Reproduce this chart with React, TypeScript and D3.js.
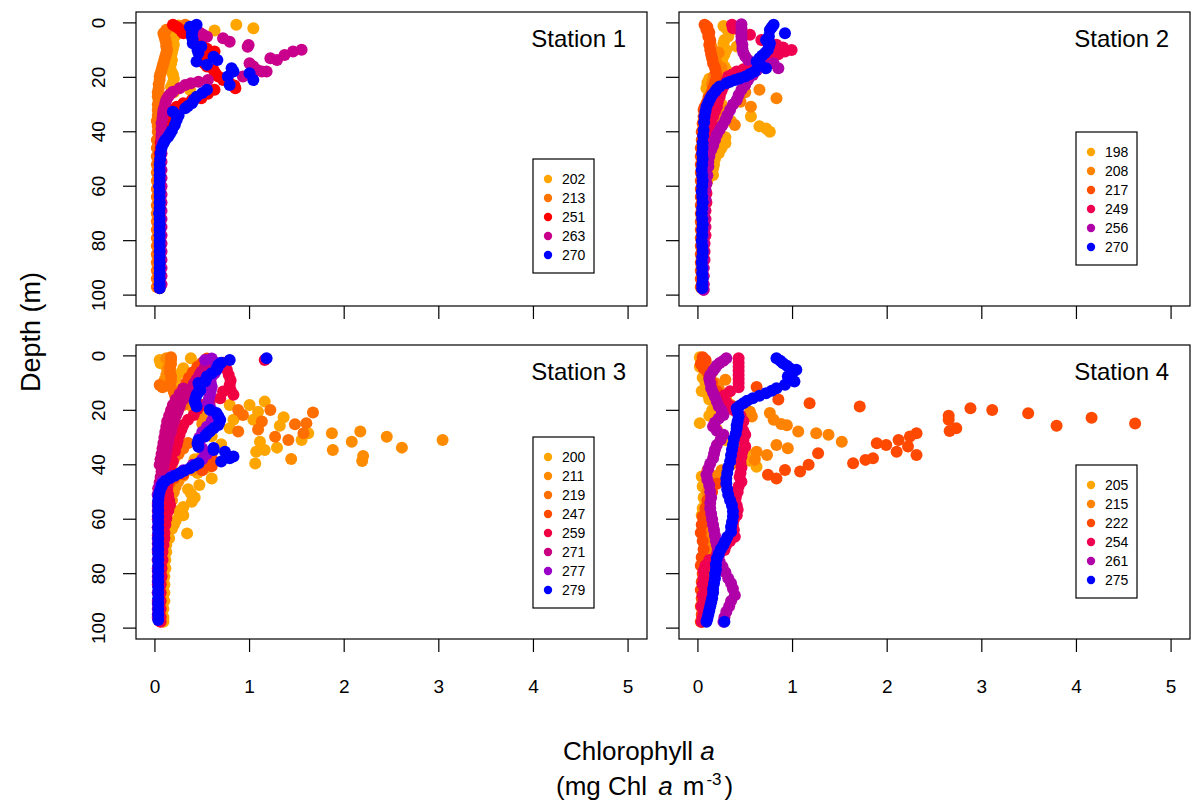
import React from "react";
import * as d3 from "d3";

type Pt = [number, number]; // [depth (m), chlorophyll a]

// ---------------- Station 1 ----------------
const station1Days = ["202", "213", "251", "263", "270"];
const station1Colors = ["#FFA500", "#FF7400", "#FF0000", "#C8008C", "#0000FF"];
const s1_202: Pt[] = [[0.7,0.86],[2,1.04],[2.8,0.63],[1,0.25],[3,0.2],[5,0.21],[6.5,0.19],[8,0.2],[9.5,0.19],[11,0.18],[12.5,0.17],[13.6,0.18],[15,0.17],[16.5,0.16],[17.5,0.17],[19,0.19],[20.5,0.2],[22,0.19],[23.5,0.17],[24.6,0.37],[25.5,0.2],[27,0.13],[29,0.1],[31,0.08],[33,0.07],[35,0.06],[37.5,0.05],[40,0.05],[43,0.04],[46,0.04],[49,0.04],[52,0.04],[55,0.03],[58,0.03],[61,0.03],[64,0.03],[67,0.03],[70,0.03],[73,0.03],[76,0.03],[79,0.03],[82,0.03],[85,0.03],[88,0.03],[91,0.03],[94,0.03],[97,0.03]];
const s1_213: Pt[] = [[0.7,0.32],[1.5,0.24],[2.5,0.12],[3.8,0.09],[5,0.1],[6.3,0.11],[7.5,0.12],[8.7,0.12],[10,0.13],[11.1,0.12],[12.3,0.11],[13.5,0.1],[14.8,0.09],[16,0.08],[17.3,0.07],[18.5,0.06],[19.7,0.05],[21,0.05],[22.5,0.04],[24,0.04],[25.5,0.03],[27,0.03],[28.5,0.04],[30,0.03],[32,0.03],[34,0.03],[36,0.02],[38,0.03],[40,0.03],[43,0.02],[46,0.02],[49,0.02],[52,0.02],[55,0.02],[58,0.02],[61,0.02],[64,0.02],[67,0.02],[70,0.02],[73,0.02],[76,0.02],[79,0.02],[82,0.02],[85,0.02],[88,0.02],[91,0.02],[94,0.02],[97,0.02]];
const s1_251: Pt[] = [[0.7,0.19],[1.3,0.22],[2,0.25],[3,0.28],[3.8,0.3],[5,0.4],[6,0.42],[7,0.45],[8.5,0.5],[9.5,0.55],[10.5,0.63],[10.5,0.53],[11.8,0.58],[12.8,0.52],[13.6,0.49],[14.8,0.52],[16,0.55],[17.3,0.62],[18.5,0.64],[19.7,0.67],[21,0.72],[22.2,0.79],[23,0.84],[24,0.85],[24.6,0.63],[26,0.56],[27.7,0.49],[28.3,0.39],[29.5,0.3],[30.8,0.23],[32,0.16],[33.5,0.13],[35,0.12],[36.5,0.1],[38,0.09],[40,0.08],[42,0.07],[44,0.06],[46,0.06],[48,0.05],[51,0.05],[54,0.05],[57,0.05],[60,0.05],[63,0.05],[66,0.05],[69,0.05],[72,0.05],[75,0.05],[78,0.05],[81,0.05],[84,0.05],[87,0.05],[90,0.05],[93,0.05],[96,0.05],[97.5,0.05]];
const s1_263: Pt[] = [[3.5,0.47],[4.4,0.51],[5.1,0.55],[5.6,0.72],[6.9,0.79],[8.1,0.99],[8.8,0.98],[9.9,1.55],[10.5,1.46],[11.8,1.37],[13,1.22],[13.6,1.29],[14.8,1.0],[16,1.04],[17.3,1.08],[17.9,1.13],[17.9,1.18],[19.7,0.93],[21,0.56],[21.6,0.46],[22.2,0.38],[22.8,0.32],[24,0.26],[25.3,0.19],[26.2,0.16],[27.1,0.14],[28.3,0.12],[29.5,0.11],[31,0.1],[32,0.09],[33.5,0.085],[35,0.08],[36.9,0.07],[39,0.07],[41,0.07],[43,0.07],[45,0.07],[48,0.07],[51,0.07],[54,0.07],[57,0.07],[60,0.07],[63,0.07],[66,0.07],[69,0.07],[72,0.07],[75,0.07],[78,0.07],[81,0.07],[84,0.07],[87,0.07],[90,0.07],[93,0.07],[96,0.07]];
const s1_270: Pt[] = [[0.7,0.44],[1.4,0.37],[2.5,0.4],[3.8,0.39],[5,0.39],[6.3,0.4],[7.5,0.4],[8.7,0.49],[10,0.45],[11.1,0.46],[12.4,0.62],[13.6,0.66],[14.2,0.44],[15.4,0.55],[16.7,0.81],[17.9,0.83],[18.5,1.0],[19.7,0.77],[21,1.04],[22.8,0.79],[24.6,0.55],[25.8,0.5],[27.1,0.44],[28.3,0.41],[29.5,0.39],[30.5,0.35],[31.4,0.32],[32.6,0.19],[34,0.25],[35.7,0.23],[37.5,0.21],[39.5,0.18],[40.7,0.16],[41.8,0.14],[43,0.11],[44.2,0.09],[46,0.07],[47.9,0.06],[50,0.055],[52,0.05],[54,0.05],[56,0.05],[58,0.05],[60,0.045],[62,0.05],[64,0.05],[66,0.05],[68,0.05],[70,0.045],[72,0.05],[74,0.05],[76,0.05],[78,0.05],[80,0.05],[82,0.05],[84,0.05],[86,0.05],[88,0.05],[90,0.05],[92,0.05],[94,0.05],[96,0.05],[97.5,0.05]];
const station1Profiles = [s1_202, s1_213, s1_251, s1_263, s1_270];

// ---------------- Station 2 ----------------
const station2Days = ["198", "208", "217", "249", "256", "270"];
const station2Colors = ["#FFA500", "#FF8200", "#FF4E00", "#F00050", "#B000A8", "#0000FF"];
const s2_198: Pt[] = [[1.1,0.27],[2,0.3],[3.5,0.33],[5,0.32],[6.3,0.28],[7.5,0.27],[8.7,0.41],[10,0.3],[11.5,0.28],[13,0.26],[14.5,0.25],[16,0.28],[17.3,0.3],[19,0.2],[20.5,0.12],[22,0.1],[24,0.09],[26,0.12],[28,0.18],[30,0.25],[32,0.3],[34.4,0.56],[36,0.35],[38,0.65],[38.8,0.72],[40,0.76],[42,0.29],[44.2,0.29],[46,0.25],[47.9,0.22],[50,0.18],[52,0.17],[53.5,0.16],[55.9,0.16],[58,0.1],[61,0.06],[64,0.05],[67,0.05],[70,0.04],[73,0.04],[76,0.04],[79,0.04],[82,0.04],[85,0.04],[88,0.04],[91,0.04],[94,0.04],[97,0.04]];
const s2_208: Pt[] = [[1,0.08],[2.5,0.1],[4,0.11],[5.5,0.12],[7,0.13],[8.5,0.14],[9.9,0.16],[11,0.22],[12,0.19],[13.5,0.18],[15,0.2],[16.5,0.25],[18,0.2],[19.5,0.17],[21,0.16],[22.5,0.15],[24.6,0.65],[25.5,0.5],[26.5,0.45],[27.7,0.83],[29,0.45],[30.8,0.56],[32,0.3],[33.5,0.27],[35.7,0.23],[37.5,0.39],[39,0.2],[40.5,0.19],[42,0.17],[44,0.16],[46,0.13],[48,0.12],[50,0.1],[53,0.09],[56,0.08],[59,0.07],[62,0.06],[65,0.06],[68,0.05],[71,0.05],[74,0.04],[77,0.04],[80,0.04],[83,0.04],[86,0.04],[89,0.04],[92,0.04],[95,0.04],[97.5,0.04]];
const s2_217: Pt[] = [[0.7,0.07],[1.5,0.1],[2.5,0.09],[3.5,0.12],[5,0.11],[6.5,0.13],[8,0.12],[9.9,0.13],[11.5,0.14],[13,0.15],[14.8,0.16],[16.5,0.18],[18,0.19],[19.7,0.2],[21,0.19],[22.2,0.18],[24,0.16],[25.9,0.14],[27.5,0.11],[29.5,0.09],[31,0.07],[32,0.06],[34.4,0.06],[37,0.05],[40,0.04],[43,0.04],[46,0.03],[49,0.03],[52,0.03],[55,0.03],[58,0.03],[61,0.03],[64,0.03],[67,0.03],[70,0.03],[73,0.03],[76,0.03],[79,0.03],[82,0.03],[85,0.03],[88,0.03],[91,0.03],[94,0.03],[97,0.03]];
const s2_249: Pt[] = [[0.7,0.36],[2,0.37],[3.2,0.45],[4.4,0.55],[6.3,0.67],[8,0.83],[9,0.9],[10,0.99],[10.5,0.92],[11.5,0.85],[12.5,0.78],[13.3,0.74],[14.2,0.69],[15,0.62],[16,0.55],[17,0.48],[17.9,0.41],[19,0.36],[19.7,0.32],[21.5,0.3],[23.4,0.27],[25,0.25],[27.1,0.23],[29,0.21],[30.8,0.2],[32.5,0.18],[34.4,0.16],[37,0.14],[39.3,0.13],[42,0.12],[44,0.11],[47,0.1],[50.3,0.1],[53,0.1],[56,0.09],[59,0.09],[62.6,0.09],[66,0.09],[69,0.08],[72,0.08],[75,0.08],[78,0.08],[81,0.07],[84,0.07],[87,0.07],[90,0.06],[93,0.06],[96,0.06],[98,0.06]];
const s2_256: Pt[] = [[0.5,0.46],[2,0.46],[3.5,0.46],[5,0.46],[6.5,0.46],[8,0.47],[9.5,0.47],[11,0.48],[12.3,0.5],[13.6,0.53],[14.8,0.8],[15.8,0.72],[16.7,0.85],[17.5,0.62],[19.1,0.58],[21,0.53],[22.8,0.5],[24.6,0.46],[26.5,0.43],[28.3,0.41],[30,0.37],[32,0.34],[34,0.31],[35.7,0.29],[37.5,0.26],[39.3,0.23],[41,0.2],[43,0.18],[45,0.16],[46.7,0.14],[49,0.12],[51,0.11],[52.8,0.11],[56,0.1],[59,0.09],[61.4,0.08],[65,0.08],[68.8,0.07],[72,0.07],[75,0.07],[78,0.06],[81,0.06],[84,0.06],[87,0.06],[90,0.06],[93,0.06],[96,0.06],[98,0.06]];
const s2_270: Pt[] = [[0.7,0.8],[1.6,0.78],[2.6,0.76],[3.8,0.92],[5,0.75],[6.3,0.72],[7.5,0.76],[8.7,0.75],[9.9,0.74],[11.1,0.71],[12,0.68],[13,0.65],[14.2,0.62],[15.5,0.66],[16.7,0.72],[17.9,0.6],[18.8,0.55],[19.7,0.5],[20.4,0.44],[21,0.39],[21.6,0.34],[22.2,0.3],[23.4,0.23],[24.3,0.2],[25.3,0.18],[26.5,0.15],[27.7,0.13],[29.2,0.11],[30.8,0.09],[32.5,0.08],[34.4,0.07],[36.5,0.065],[39.3,0.06],[41.5,0.055],[44,0.05],[46,0.05],[48,0.045],[50,0.05],[52,0.045],[54,0.04],[56,0.045],[58,0.05],[60,0.045],[62,0.04],[64,0.045],[66,0.05],[68,0.045],[70,0.04],[72,0.045],[74,0.05],[76,0.045],[78,0.045],[80,0.04],[82,0.045],[84,0.05],[86,0.045],[88,0.04],[90,0.045],[92,0.045],[94,0.05],[96,0.045],[97.5,0.045]];
const station2Profiles = [s2_198, s2_208, s2_217, s2_249, s2_256, s2_270];

// ---------------- Station 3 ----------------
const station3Days = ["200", "211", "219", "247", "259", "271", "277", "279"];
const station3Colors = ["#FFA500", "#FF8C00", "#FF6E00", "#FF4A00", "#F00040", "#C80080", "#9A00C8", "#0000FF"];
const s3_200: Pt[] = [[0.9,0.38],[1.5,0.05],[2.7,0.06],[3.5,0.45],[4.5,0.3],[6,0.28],[8,0.22],[10,0.2],[12,0.24],[14.3,0.26],[16,0.3],[16.8,1.16],[18,1.0],[18,0.79],[19.5,0.5],[20.5,1.09],[21.5,0.45],[22.5,1.36],[23.5,0.83],[23.5,1.04],[25,0.55],[25.7,1.32],[26.6,0.79],[28.4,1.62],[29.5,0.6],[30.9,1.55],[31.5,1.11],[32.5,0.7],[33.7,1.29],[34.6,1.16],[35.2,1.07],[36.5,0.5],[38,0.42],[39.5,1.06],[41,0.55],[43,0.45],[45,0.6],[47.4,0.47],[49,0.35],[50.5,0.38],[52,0.42],[53.6,0.39],[55.5,0.3],[57,0.25],[58.5,0.3],[60.5,0.22],[62,0.2],[63.5,0.18],[65.2,0.34],[67,0.15],[69.5,0.12],[72,0.12],[75,0.11],[78,0.11],[81,0.1],[84,0.1],[87,0.1],[90,0.1],[93,0.09],[96,0.09],[97.7,0.09]];
const s3_211: Pt[] = [[0.9,0.12],[2,0.15],[3.5,0.15],[5,0.13],[7,0.12],[9,0.1],[11,0.12],[13,0.2],[15,0.25],[17,0.35],[19,0.4],[21,0.45],[23,0.5],[25,0.5],[27.8,2.17],[28.4,1.87],[29.7,2.45],[30.9,3.04],[31.5,2.08],[33.7,2.61],[34.6,1.88],[36.8,2.2],[37.9,1.44],[38.6,2.19],[40,0.45],[42,0.4],[44,0.3],[46,0.25],[48,0.22],[50,0.2],[53,0.18],[56,0.15],[59,0.12],[62,0.1],[65,0.1],[68,0.09],[71,0.08],[74,0.08],[77,0.07],[80,0.07],[83,0.07],[86,0.06],[89,0.06],[92,0.06],[95,0.06],[97.5,0.06]];
const s3_219: Pt[] = [[0.5,0.17],[1.5,0.17],[3,0.17],[4.5,0.16],[6,0.16],[7.5,0.17],[9,0.17],[10.7,0.05],[10.7,0.16],[11.5,0.08],[13,0.2],[14.3,0.21],[16,0.25],[18,0.3],[19.9,0.88],[19.9,1.22],[20.8,1.67],[21.7,0.93],[24.1,1.13],[24.7,1.6],[25.1,1.48],[27,1.09],[27.8,0.88],[28.4,1.57],[29.7,1.27],[30.9,1.41],[32,0.35],[34,0.3],[36,0.25],[38,0.2],[40,0.18],[42,0.15],[45,0.13],[48,0.12],[51,0.11],[54,0.1],[57,0.09],[60,0.08],[63,0.08],[66,0.07],[69,0.07],[72,0.07],[75,0.06],[78,0.06],[81,0.06],[84,0.06],[87,0.06],[90,0.06],[93,0.05],[96,0.05],[97.5,0.05]];
const s3_247: Pt[] = [[1,0.55],[2.5,0.5],[4,0.45],[6,0.4],[8,0.36],[10,0.33],[12,0.3],[14,0.28],[16,0.26],[18,0.25],[20,0.24],[22,0.22],[24,0.2],[26,0.19],[28,0.18],[30,0.17],[32,0.16],[34,0.15],[36,0.55],[37.5,0.6],[39,0.52],[40.5,0.6],[42,0.5],[43.5,0.3],[45,0.2],[47,0.15],[49,0.12],[51,0.1],[54,0.09],[57,0.08],[60,0.08],[63,0.07],[66,0.07],[69,0.06],[72,0.06],[75,0.06],[78,0.05],[81,0.05],[84,0.05],[87,0.05],[90,0.05],[93,0.05],[96,0.05]];
const s3_259: Pt[] = [[1.5,1.16],[2.5,0.72],[5.1,0.76],[7,0.78],[9,0.8],[10.7,0.79],[12.5,0.8],[14.3,0.83],[13.1,0.72],[15.6,0.69],[16.8,0.58],[18,0.5],[19.5,0.45],[21.7,0.41],[23.5,0.35],[25.4,0.3],[27,0.28],[29,0.26],[31,0.24],[32.7,0.23],[35,0.21],[38.8,0.19],[41,0.16],[43,0.14],[44.9,0.12],[47,0.13],[49,0.13],[51,0.14],[53,0.15],[54.8,0.16],[57,0.14],[59.7,0.12],[62,0.11],[65,0.1],[67,0.1],[69.5,0.09],[72,0.08],[75,0.08],[78,0.07],[81,0.07],[84,0.06],[87,0.06],[90,0.06],[93,0.06],[96,0.06],[97.7,0.06]];
const s3_271: Pt[] = [[2.7,0.56],[4,0.53],[5.8,0.49],[7,0.47],[8.8,0.44],[10.3,0.41],[11.9,0.39],[13,0.36],[14.3,0.33],[15.8,0.3],[17.4,0.27],[18.8,0.26],[20.5,0.24],[22,0.22],[24.1,0.2],[26,0.18],[27.8,0.17],[29.5,0.15],[31.5,0.14],[33.3,0.13],[35.2,0.12],[37,0.11],[38.8,0.1],[40.5,0.09],[42.5,0.07],[44.5,0.06],[46.5,0.05],[48.6,0.035],[12,0.3],[14,0.26],[16,0.22],[18,0.19],[20,0.17],[22,0.15],[24,0.13],[26,0.12],[28,0.11],[30,0.1],[32,0.09],[34,0.08],[36,0.07],[38,0.06],[40,0.05],[51,0.03],[54,0.03],[57,0.03],[60,0.03],[63,0.03],[66,0.03],[69,0.03],[72,0.03],[75,0.03],[78,0.03],[81,0.03],[84,0.03],[87,0.03],[90,0.03],[93,0.03],[96,0.03]];
const s3_277: Pt[] = [[1.5,0.53],[1,0.6],[2.5,0.64],[4,0.67],[5.2,0.65],[6.4,0.63],[7.6,0.6],[8.8,0.58],[10,0.59],[11.3,0.6],[12.8,0.59],[14.3,0.58],[15.8,0.57],[17.4,0.56],[18.6,0.58],[20,0.6],[22,0.62],[24,0.6],[26,0.55],[28,0.5],[30,0.47],[32,0.47],[34,0.5],[36,0.55],[38,0.5],[40,0.4],[42,0.3],[44,0.18],[46,0.08],[48,0.05],[51,0.03],[55,0.03],[59,0.03],[63,0.03],[67,0.03],[71,0.03],[75,0.03],[79,0.03],[83,0.03],[87,0.03],[91,0.03],[95,0.03]];
const s3_279: Pt[] = [[0.9,1.18],[1.5,0.79],[2.5,0.7],[3.3,0.67],[4.2,0.66],[5.1,0.65],[6.4,0.6],[7.6,0.55],[8.5,0.54],[9.4,0.53],[10,0.46],[11.2,0.47],[12.5,0.48],[13.4,0.46],[14.3,0.44],[15.5,0.43],[16.8,0.42],[17.7,0.43],[18.6,0.44],[19.8,0.58],[21,0.65],[22.2,0.67],[23.5,0.69],[24.5,0.68],[25.4,0.67],[26.6,0.62],[27.8,0.58],[28.7,0.55],[29.6,0.53],[30.9,0.46],[32.2,0.45],[33.4,0.46],[33.8,0.62],[34.6,0.62],[35.2,0.74],[37,0.83],[37.6,0.79],[38.8,0.7],[39.4,0.46],[40.3,0.42],[41.3,0.37],[42.2,0.31],[43.1,0.26],[44,0.21],[44.9,0.16],[46,0.11],[47,0.08],[48,0.07],[49.9,0.05],[51.5,0.04],[53,0.035],[55,0.035],[57,0.035],[59,0.035],[61,0.035],[63,0.035],[65,0.035],[67,0.035],[69,0.035],[71,0.035],[73,0.035],[75,0.035],[77,0.035],[79,0.035],[81,0.035],[83,0.035],[85,0.035],[87,0.035],[89,0.035],[91,0.035],[93,0.035],[95,0.035],[97,0.035]];
const station3Profiles = [s3_200, s3_211, s3_219, s3_247, s3_259, s3_271, s3_277, s3_279];

// ---------------- Station 4 ----------------
const station4Days = ["205", "215", "222", "254", "261", "275"];
const station4Colors = ["#FFA500", "#FF8200", "#FF4800", "#F00050", "#B000A8", "#0000FF"];
const s4_205: Pt[] = [[0.5,0.02],[2,0.05],[4,0.02],[6,0.1],[8,0.05],[10,0.08],[12.9,0.04],[14,0.1],[16,0.12],[18,0.2],[20,0.15],[22,0.12],[24.7,0.02],[27,0.2],[29,0.25],[31,0.3],[33,0.4],[35,0.5],[37.5,0.6],[38.5,0.55],[40.7,0.62],[42,0.1],[44.3,0.04],[46,0.08],[48,0.05],[50,0.1],[52,0.06],[54,0.08],[56,0.05],[58.5,0.04],[60,0.08],[62,0.12],[64,0.1],[66,0.08],[68,0.12],[70,0.1],[72,0.08],[74,0.1],[76,0.12],[78,0.08],[80,0.1],[82,0.08],[84,0.06],[86,0.1],[88,0.08],[90,0.06],[92,0.1],[94,0.08],[96,0.05],[97.7,0.05]];
const s4_215: Pt[] = [[0.7,0.05],[2,0.08],[4,0.1],[6,0.15],[8.8,0.29],[10,0.18],[12,0.22],[14,0.25],[16,0.3],[18,0.35],[20.5,0.55],[21,0.76],[22.3,0.57],[23.5,0.8],[25,0.88],[25.5,0.94],[27.8,1.06],[28.4,1.25],[29,1.38],[31.5,1.52],[32.7,0.83],[33.9,0.95],[35.2,0.62],[36.4,0.73],[38.2,0.6],[40,0.35],[42,0.25],[44,0.2],[46,0.15],[48,0.12],[50,0.1],[53,0.12],[56,0.08],[59,0.1],[62,0.08],[65,0.1],[68,0.12],[71,0.1],[74,0.08],[77,0.1],[80,0.1],[83,0.08],[86,0.06],[89,0.08],[92,0.06],[95,0.05],[97.5,0.05]];
const s4_222: Pt[] = [[0.5,0.05],[1.5,0.08],[3,0.03],[4.5,0.06],[6,0.1],[8,0.12],[10,0.15],[11.4,0.62],[13,0.2],[15,0.25],[16,0.85],[17.4,1.18],[18.6,1.71],[19.2,2.88],[19.9,3.11],[21.1,3.49],[22,2.65],[22.7,4.16],[23.5,2.65],[24.8,4.62],[25.7,3.79],[26.6,2.73],[27.6,2.66],[28.4,2.31],[29.6,2.24],[30.9,2.12],[32.1,1.89],[32.7,1.99],[33.3,2.22],[35.2,2.1],[35.8,1.27],[36.4,2.31],[37.6,1.85],[38.2,1.77],[39.4,1.64],[40,1.17],[41.9,0.92],[42.5,1.08],[43.7,0.74],[45,0.83],[47,0.2],[50,0.15],[53,0.1],[56,0.08],[59,0.05],[62,0.04],[65,0.03],[68,0.05],[71,0.06],[74,0.04],[77,0.03],[80,0.05],[83,0.04],[86,0.03],[89,0.04],[92,0.03],[95,0.04],[97.7,0.03]];
const s4_254: Pt[] = [[0.9,0.43],[2.5,0.43],[4,0.43],[5.5,0.43],[7,0.43],[8.5,0.43],[10,0.43],[11.5,0.43],[13,0.34],[14.5,0.28],[15.6,0.23],[17,0.3],[18.5,0.35],[20,0.38],[22,0.45],[24,0.48],[26,0.45],[27.5,0.48],[29,0.5],[31,0.48],[33.3,0.5],[35,0.47],[37,0.46],[39,0.45],[41,0.46],[43,0.45],[44.5,0.44],[46.2,0.46],[48,0.43],[50,0.42],[52,0.4],[53.6,0.39],[55,0.41],[56.5,0.42],[58.5,0.41],[60,0.38],[62,0.37],[64,0.38],[66.4,0.39],[68,0.34],[69.5,0.3],[71.3,0.28],[73,0.2],[75,0.12],[77,0.08],[79,0.06],[81.7,0.06],[84,0.05],[86,0.07],[88,0.05],[90,0.06],[92,0.04],[94,0.06],[96,0.05],[97.7,0.04]];
const s4_261: Pt[] = [[0.9,0.3],[1.8,0.27],[2.6,0.23],[3.5,0.2],[4.5,0.18],[5.5,0.16],[7,0.13],[8.5,0.12],[10,0.13],[11.9,0.14],[13.5,0.16],[15,0.18],[16.8,0.2],[18.5,0.22],[20,0.25],[21.7,0.27],[23,0.22],[24.5,0.18],[25.9,0.16],[27.5,0.2],[29,0.27],[30.8,0.24],[32.7,0.2],[34.5,0.18],[36,0.17],[37.6,0.16],[39.5,0.13],[41.5,0.11],[43.7,0.09],[45.5,0.1],[47.5,0.12],[49.9,0.13],[52,0.14],[54,0.13],[56,0.13],[58,0.14],[60,0.15],[62.1,0.16],[64,0.17],[66,0.18],[68,0.19],[69.5,0.2],[71.5,0.21],[73.5,0.22],[75.6,0.23],[77.5,0.26],[79.5,0.29],[81.7,0.32],[83.5,0.35],[85.5,0.37],[87.9,0.39],[90,0.35],[92,0.33],[94,0.3],[96,0.28],[97.7,0.27]];
const s4_275: Pt[] = [[0.9,0.83],[1.8,0.87],[2.7,0.9],[3.6,0.94],[4.5,0.97],[5.1,1.04],[6.3,1.0],[7.6,0.95],[8.5,0.99],[9.4,1.02],[10.6,0.92],[11.9,0.83],[12.8,0.78],[13.7,0.72],[14.6,0.65],[15.6,0.58],[16.5,0.52],[17.4,0.48],[18.3,0.44],[19.2,0.41],[20.5,0.42],[22.3,0.43],[24,0.42],[25.5,0.41],[26.6,0.41],[28.5,0.4],[30.5,0.38],[32.7,0.37],[34.5,0.36],[36.5,0.35],[38.8,0.34],[41,0.32],[43,0.31],[45,0.3],[47,0.3],[49,0.31],[51,0.32],[53,0.34],[55,0.36],[57.2,0.37],[59,0.37],[61,0.36],[62.8,0.35],[64.6,0.35],[66.5,0.31],[68,0.29],[69.5,0.27],[71,0.24],[72.8,0.22],[74.4,0.2],[76.5,0.19],[78.5,0.19],[80,0.18],[81.7,0.18],[83.5,0.17],[85.5,0.16],[87,0.16],[89,0.15],[90.5,0.14],[92,0.13],[93.5,0.12],[95,0.11],[96.5,0.1],[97.7,0.09],[97.7,0.28]];
const station4Profiles = [s4_205, s4_215, s4_222, s4_254, s4_261, s4_275];

const stationTitles = ["Station 1", "Station 2", "Station 3", "Station 4"];
const xTicks = [0, 1, 2, 3, 4, 5];
const yTicks = [0, 20, 40, 60, 80, 100];

// ---------------- Layout ----------------
const W = 1191, H = 810;
const panelW = 511, panelH = 294;
const colX = [136, 679];
const rowY = [12, 345];
const legendTopOffset = [147, 120, 92, 120];
const FONT = "'Liberation Sans', Arial, Helvetica, sans-serif";

const stations = [
  { days: station1Days, colors: station1Colors, profiles: station1Profiles },
  { days: station2Days, colors: station2Colors, profiles: station2Profiles },
  { days: station3Days, colors: station3Colors, profiles: station3Profiles },
  { days: station4Days, colors: station4Colors, profiles: station4Profiles },
];

function Panel({ idx }: { idx: number }) {
  const st = stations[idx];
  const col = idx % 2, row = Math.floor(idx / 2);
  const x0 = colX[col], x1 = x0 + panelW;
  const y0 = rowY[row], y1 = y0 + panelH;
  const x = d3.scaleLinear().domain([-0.2, 5.2]).range([x0, x1]);
  const y = d3.scaleLinear().domain([-4, 104]).range([y0, y1]);
  const lx = x1 - 114;
  const ly = y0 + legendTopOffset[idx];
  const lh = st.days.length * 19 + 19;
  return (
    <g>
      {st.profiles.map((prof, pi) => (
        <g key={pi} fill={st.colors[pi]}>
          {prof.map((p, k) => (
            <circle key={k} cx={x(p[1])} cy={y(p[0])} r={6} />
          ))}
        </g>
      ))}
      <rect x={x0} y={y0} width={panelW} height={panelH} fill="none" stroke="#000" strokeWidth={1.2} />
      {xTicks.map((t) => (
        <line key={"xt" + t} x1={x(t)} x2={x(t)} y1={y1} y2={y1 + 13} stroke="#000" strokeWidth={1.2} />
      ))}
      {row === 1 && xTicks.map((t) => (
        <text key={"xl" + t} x={x(t)} y={y1 + 47} textAnchor="middle" dominantBaseline="central" fontSize={19} fontFamily={FONT}>{t}</text>
      ))}
      {yTicks.map((t) => (
        <line key={"yt" + t} x1={x0 - 13} x2={x0} y1={y(t)} y2={y(t)} stroke="#000" strokeWidth={1.2} />
      ))}
      {col === 0 && yTicks.map((t) => (
        <text key={"yl" + t} transform={`translate(${x0 - 38},${y(t)}) rotate(-90)`} textAnchor="middle" dominantBaseline="central" fontSize={19} fontFamily={FONT}>{t}</text>
      ))}
      <text x={x1 - 21} y={y0 + 35} textAnchor="end" fontSize={24} fontFamily={FONT}>{stationTitles[idx]}</text>
      <rect x={lx} y={ly} width={61} height={lh} fill="#fff" stroke="#000" strokeWidth={1.2} />
      {st.days.map((dname, i) => (
        <g key={dname}>
          <circle cx={lx + 15} cy={ly + 20 + 19 * i} r={4.2} fill={st.colors[i]} />
          <text x={lx + 29} y={ly + 20 + 19 * i} dominantBaseline="central" fontSize={14} fontFamily={FONT}>{dname}</text>
        </g>
      ))}
    </g>
  );
}

export default function App() {
  return (
    <svg width={W} height={H} style={{ position: "absolute", left: 0, top: 0, background: "#fff" }}>
      {[0, 1, 2, 3].map((i) => <Panel key={i} idx={i} />)}
      <text transform="translate(31,332) rotate(-90)" textAnchor="middle" dominantBaseline="central" fontSize={27} fontFamily={FONT}>Depth (m)</text>
      <text x={563} y={760} textAnchor="start" fontSize={26} fontFamily={FONT}>
        Chlorophyll <tspan fontStyle="italic">a</tspan>
      </text>
      <text x={556} y={795} textAnchor="start" fontSize={26} fontFamily={FONT}>
        (mg Chl <tspan dx={4} fontStyle="italic">a</tspan><tspan dx={10}>m</tspan><tspan fontSize={17} dy={-10} dx={2}>-3</tspan><tspan dy={10} dx={3}>)</tspan>
      </text>
    </svg>
  );
}
